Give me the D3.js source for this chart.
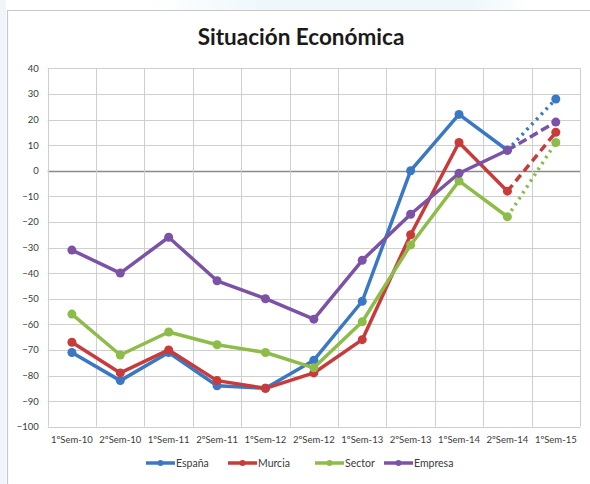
<!DOCTYPE html>
<html>
<head>
<meta charset="utf-8">
<script src="https://cdn.jsdelivr.net/npm/d3@7"></script>
<style>
  html, body { margin: 0; padding: 0; background: #fff; }
  svg { display: block; }
</style>
</head>
<body>
<svg id="chart" width="590" height="484"></svg>
<script>
const categories = ["1ºSem-10","2ºSem-10","1ºSem-11","2ºSem-11","1ºSem-12","2ºSem-12","1ºSem-13","2ºSem-13","1ºSem-14","2ºSem-14","1ºSem-15"];
const espana  = [-71, -82, -71, -84, -85, -74, -51,   0,  22,   8,  28];
const murcia  = [-67, -79, -70, -82, -85, -79, -66, -25,  11,  -8,  15];
const sector  = [-56, -72, -63, -68, -71, -77, -59, -29,  -4, -18,  11];
const empresa = [-31, -40, -26, -43, -50, -58, -35, -17,  -1,   8,  19];
const yTicks  = [40, 30, 20, 10, 0, -10, -20, -30, -40, -50, -60, -70, -80, -90, -100];
const seriesNames = ["España", "Murcia", "Sector", "Empresa"];
const seriesColors = ["#3a78c6", "#c93a3b", "#8dbd48", "#7c52a7"];
const forecastDash = ["2.5 4.5", "8 5", "2.5 4.5", "9 4"];

(function () {
const series = [espana, murcia, sector, empresa].map((v, i) => ({
  name: seriesNames[i], values: v, color: seriesColors[i], dash: forecastDash[i]
}));

const svg = d3.select("#chart");
const font = "Lato, 'Open Sans', sans-serif";

// background decoration
svg.append("rect").attr("x", 0).attr("y", 0).attr("width", 590).attr("height", 484).attr("fill", "#fff");
svg.append("rect").attr("x", 0).attr("y", 0).attr("width", 6).attr("height", 484).attr("fill", "#eef6fb");
const grad = svg.append("defs").append("linearGradient").attr("id", "topg");
grad.append("stop").attr("offset", "0").attr("stop-color", "#ffffff");
grad.append("stop").attr("offset", "0.3").attr("stop-color", "#eef8fc");
grad.append("stop").attr("offset", "0.85").attr("stop-color", "#eef8fc");
grad.append("stop").attr("offset", "1").attr("stop-color", "#ffffff");
svg.append("rect").attr("x", 150).attr("y", 0).attr("width", 380).attr("height", 10).attr("fill", "url(#topg)");
// chart frame
svg.append("path").attr("d", "M7.5,484 V10.5 H590").attr("fill", "none").attr("stroke", "#c8c8c8").attr("stroke-width", 1.2);

const pLeft = 47.7, pRight = 580, pTop = 68.3, pBottom = 426.7;
const x = d3.scaleBand().domain(categories).range([pLeft, pRight]).paddingInner(0).paddingOuter(0);
const y = d3.scaleLinear().domain([-100, 40]).range([pBottom, pTop]);
const cx = c => x(c) + x.bandwidth() / 2;

// title
svg.append("text").attr("x", 301).attr("y", 45).attr("text-anchor", "middle")
  .attr("font-family", font).attr("font-weight", "bold").attr("font-size", 22.5)
  .attr("fill", "#1a1a1a").text("Situación Económica");

// horizontal gridlines
svg.append("g").selectAll("line").data(yTicks).join("line")
  .attr("x1", pLeft).attr("x2", pRight)
  .attr("y1", d => Math.round(y(d)) + 0.5).attr("y2", d => Math.round(y(d)) + 0.5)
  .attr("stroke", d => d === 0 ? "#8a8a8a" : "#cfcfcf").attr("stroke-width", d => d === 0 ? 1.5 : 1);

// vertical gridlines at category boundaries
const bounds = categories.map(c => x(c)).concat([pRight]);
svg.append("g").selectAll("line").data(bounds).join("line")
  .attr("x1", d => Math.round(d) + 0.5).attr("x2", d => Math.round(d) + 0.5)
  .attr("y1", pTop).attr("y2", pBottom)
  .attr("stroke", "#cfcfcf").attr("stroke-width", 1);

// y axis labels
const yAxis = d3.axisLeft(y).tickValues(yTicks).tickSize(0).tickPadding(9);
const gy = svg.append("g").attr("transform", `translate(${pLeft},0)`).call(yAxis);
gy.select(".domain").remove();
gy.selectAll("text").attr("font-family", font).attr("font-size", 9.5).attr("fill", "#3a3a3a");

// x axis labels
const xAxis = d3.axisBottom(x).tickSize(0).tickPadding(10);
const gx = svg.append("g").attr("transform", `translate(0,${pBottom})`).call(xAxis);
gx.select(".domain").remove();
gx.selectAll("text").attr("font-family", font).attr("font-size", 9.5).attr("fill", "#3a3a3a");

const line = d3.line().x(d => d.x).y(d => y(d.v));

series.forEach(s => {
  const pts = s.values.map((v, i) => ({ x: cx(categories[i]), v }));
  const g = svg.append("g");
  g.append("path").attr("d", line(pts.slice(0, 10))).attr("fill", "none")
    .attr("stroke", s.color).attr("stroke-width", 3.5).attr("stroke-linejoin", "round");
  g.append("path").attr("d", line(pts.slice(9, 11))).attr("fill", "none")
    .attr("stroke", s.color).attr("stroke-width", 3.5).attr("stroke-dasharray", s.dash);
  g.selectAll("circle").data(pts).join("circle")
    .attr("cx", d => d.x).attr("cy", d => y(d.v)).attr("r", 4.5).attr("fill", s.color);
});

// legend
const legendX = [146, 228, 315, 384];
const legendY = 463;
const lg = svg.append("g");
series.forEach((s, i) => {
  const lx = legendX[i];
  lg.append("line").attr("x1", lx).attr("x2", lx + 29).attr("y1", legendY).attr("y2", legendY)
    .attr("stroke", s.color).attr("stroke-width", 3.5);
  lg.append("circle").attr("cx", lx + 14.5).attr("cy", legendY).attr("r", 3).attr("fill", s.color);
  lg.append("text").attr("x", lx + 30).attr("y", legendY + 3.5).attr("font-family", font)
    .attr("font-size", 10.5).attr("fill", "#3a3a3a").text(s.name);
});
})();
</script>
</body>
</html>
